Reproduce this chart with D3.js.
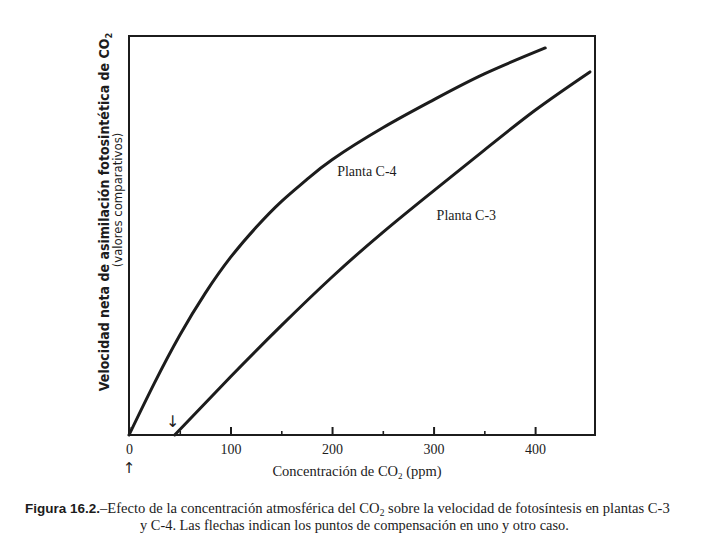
<!DOCTYPE html>
<html>
<head>
<meta charset="utf-8">
<script src="https://cdn.jsdelivr.net/npm/d3@7/dist/d3.min.js"></script>
<style>
  html, body { margin: 0; padding: 0; background: #ffffff; }
  svg { display: block; }
</style>
</head>
<body>
<svg id="chart" width="720" height="540"></svg>
<script>
// ---- data ----
const co2C4  = [0, 25, 50, 75, 100, 125, 150, 175, 200, 250, 300, 350, 410];
const rateC4 = [0, 13, 25, 35.5, 44.5, 52, 58.5, 64, 69, 77, 84, 90.5, 97];
const co2C3  = [45, 100, 150, 200, 250, 300, 350, 400, 454];
const rateC3 = [0, 14.6, 27.4, 39.6, 50.8, 61.2, 71.4, 81.4, 91];
const majorTicks = [0, 100, 200, 300, 400];
const minorTicks = [50, 150, 250, 350];
const xDomain = [0, 459];
const yDomain = [0, 100];
const labelC4 = "Planta C-4";
const labelC3 = "Planta C-3";
const compC4 = 0, compC3 = 45;

const ink = "#1c1c1c";
const svg = d3.select("#chart");
const L = 129, T = 36, R = 595, B = 435;

const x = d3.scaleLinear().domain(xDomain).range([L, R]);
const y = d3.scaleLinear().domain(yDomain).range([B, T]);

const serif = "'Liberation Serif', 'DejaVu Serif', serif";
const sansB = "'Liberation Sans Narrow', 'DejaVu Sans Condensed', 'Liberation Sans', sans-serif";

// frame
svg.append("rect")
  .attr("x", L).attr("y", T).attr("width", R - L).attr("height", B - T)
  .attr("fill", "none").attr("stroke", ink).attr("stroke-width", 2);

// x axis: major ticks (inside, pointing up) with labels
const axMajor = d3.axisBottom(x).tickValues(majorTicks).tickSize(-8).tickPadding(9)
  .tickFormat(d3.format("d"));
const gMaj = svg.append("g").attr("transform", `translate(0,${B})`).call(axMajor);
gMaj.select(".domain").remove();
gMaj.selectAll(".tick line").attr("stroke", ink).attr("stroke-width", 2);
gMaj.selectAll(".tick text")
  .attr("fill", ink)
  .style("font-family", serif)
  .style("font-size", "14px");

const axMinor = d3.axisBottom(x).tickValues(minorTicks).tickSize(-4).tickFormat("");
const gMin = svg.append("g").attr("transform", `translate(0,${B})`).call(axMinor);
gMin.select(".domain").remove();
gMin.selectAll(".tick line").attr("stroke", ink).attr("stroke-width", 1.6);

// curves
const line = d3.line().x(d => x(d[0])).y(d => y(d[1])).curve(d3.curveNatural);
const c4 = co2C4.map((v, i) => [v, rateC4[i]]);
const c3 = co2C3.map((v, i) => [v, rateC3[i]]);
[c4, c3].forEach(pts => {
  svg.append("path").datum(pts).attr("d", line)
    .attr("fill", "none").attr("stroke", ink).attr("stroke-width", 3)
    .attr("stroke-linecap", "round");
});

// curve labels
svg.append("text").attr("x", x(205)).attr("y", y(65))
  .attr("fill", ink).style("font-family", serif).style("font-size", "14px").text(labelC4);
svg.append("text").attr("x", x(303)).attr("y", y(53.8))
  .attr("fill", ink).style("font-family", serif).style("font-size", "14px").text(labelC3);

// compensation arrows
svg.append("text").attr("x", x(compC4)).attr("y", B + 38).attr("text-anchor", "middle")
  .attr("fill", ink).style("font-family", "'DejaVu Sans', sans-serif").style("font-size", "15px")
  .text("↑");
svg.append("text").attr("x", x(compC3) - 2).attr("y", B - 8).attr("text-anchor", "middle")
  .attr("fill", ink).style("font-family", "'DejaVu Sans', sans-serif").style("font-size", "16px")
  .text("↓");

// x axis title
const xt = svg.append("text").attr("x", 357).attr("y", 476).attr("text-anchor", "middle")
  .attr("fill", ink).style("font-family", serif).style("font-size", "14.5px");
xt.append("tspan").text("Concentración de CO");
xt.append("tspan").attr("dy", 3).style("font-size", "9px").text("2");
xt.append("tspan").attr("dy", -3).text(" (ppm)");

// y axis title (two lines, rotated)
const y1 = svg.append("text").attr("transform", "translate(109,212) rotate(-90)")
  .attr("text-anchor", "middle").attr("fill", ink)
  .style("font-family", sansB).style("font-weight", "bold").style("font-size", "14px");
y1.append("tspan").text("Velocidad neta de asimilación fotosintética de CO");
y1.append("tspan").attr("dy", 3).style("font-size", "9px").text("2");

svg.append("text").attr("transform", "translate(122,200) rotate(-90)")
  .attr("text-anchor", "middle").attr("fill", ink)
  .style("font-family", sansB).style("font-size", "13px")
  .text("(valores comparativos)");

// caption
const cap1 = svg.append("text").attr("x", 25).attr("y", 513).attr("fill", ink)
  .style("font-family", serif).style("font-size", "14.6px");
cap1.append("tspan").style("font-weight", "bold").style("font-family", "'Liberation Sans', sans-serif")
  .style("font-size", "13.5px").text("Figura 16.2.");
cap1.append("tspan").text("–Efecto de la concentración atmosférica del CO");
cap1.append("tspan").attr("dy", 3).style("font-size", "9.5px").text("2");
cap1.append("tspan").attr("dy", -3).text(" sobre la velocidad de fotosíntesis en plantas C-3");

svg.append("text").attr("x", 140).attr("y", 530).attr("fill", ink)
  .style("font-family", serif).style("font-size", "14.4px")
  .text("y C-4. Las flechas indican los puntos de compensación en uno y otro caso.");
</script>
</body>
</html>
